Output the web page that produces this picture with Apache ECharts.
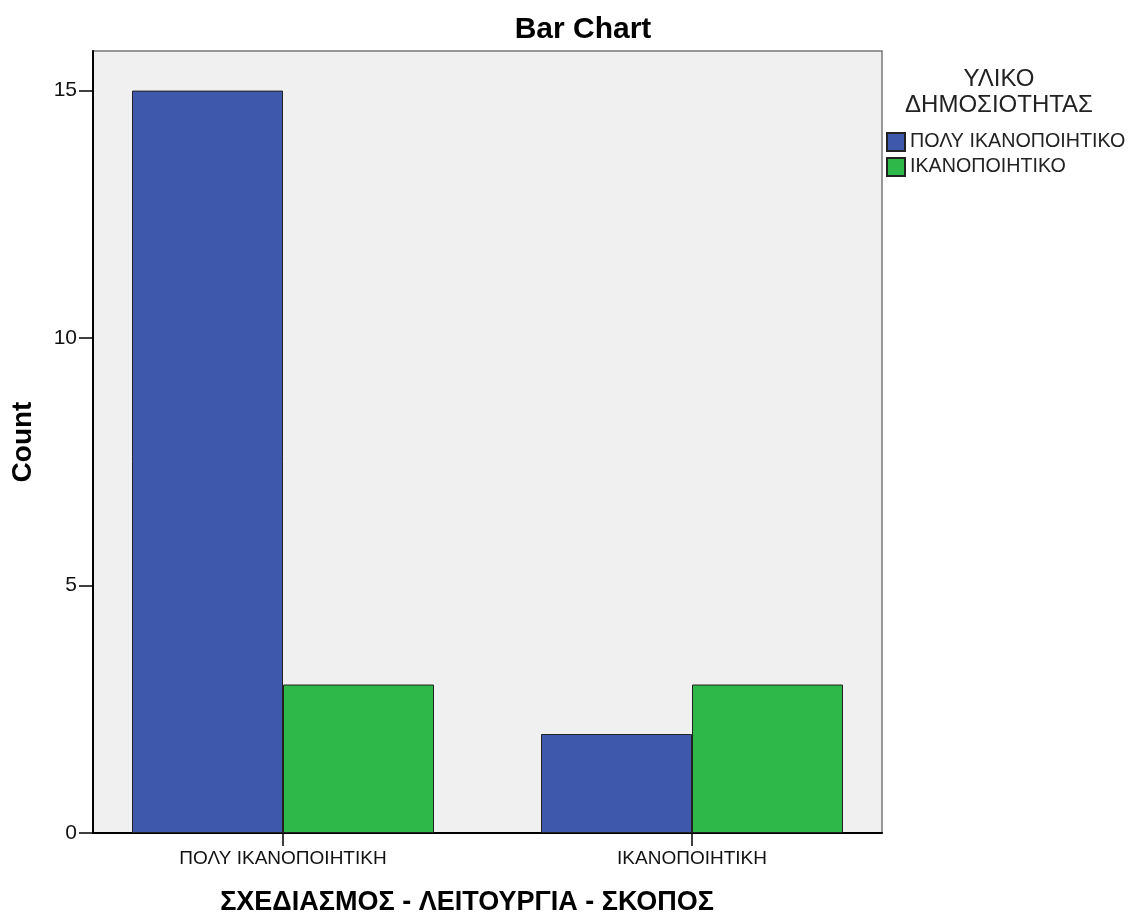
<!DOCTYPE html>
<html>
<head>
<meta charset="utf-8">
<title>Bar Chart</title>
<script src="https://cdn.jsdelivr.net/npm/echarts@6/dist/echarts.min.js"></script>
<style>
  html, body { margin: 0; padding: 0; background: #fff; }
  #chart { width: 1129px; height: 915px; }
</style>
</head>
<body>
<div id="chart"></div>
<script>
// data
const categories = ['ΠΟΛΥ ΙΚΑΝΟΠΟΙΗΤΙΚΗ', 'ΙΚΑΝΟΠΟΙΗΤΙΚΗ']
const seriesNames = ['ΠΟΛΥ ΙΚΑΝΟΠΟΙΗΤΙΚΟ', 'ΙΚΑΝΟΠΟΙΗΤΙΚΟ']
const veryGoodCounts = [15, 2]
const goodCounts = [3, 3]
const yTicks = [0, 5, 10, 15]
const yMax = 15.8

const font = "'Liberation Sans', Arial, sans-serif"
const blue = '#3e58ac'
const green = '#2eb84a'

const chart = echarts.init(document.getElementById('chart'))

const option = {
  backgroundColor: '#fff',
  animation: false,
  textStyle: { fontFamily: font },
  title: [
    {
      text: 'Bar Chart',
      left: 578,
      top: 10,
      textAlign: 'center',
      textStyle: { fontFamily: font, fontSize: 30, fontWeight: 'bold', color: '#000' }
    },
    {
      text: 'ΣΧΕΔΙΑΣΜΟΣ - ΛΕΙΤΟΥΡΓΙΑ - ΣΚΟΠΟΣ',
      left: 462,
      top: 884,
      textAlign: 'center',
      textStyle: { fontFamily: font, fontSize: 27, fontWeight: 'bold', color: '#000' }
    },
    {
      text: 'ΥΛΙΚΟ\nΔΗΜΟΣΙΟΤΗΤΑΣ',
      left: 994,
      top: 61,
      textAlign: 'center',
      textStyle: { fontFamily: font, fontSize: 24, fontWeight: 'normal', color: '#222', lineHeight: 26 }
    }
  ],
  legend: {
    data: seriesNames,
    orient: 'vertical',
    left: 886,
    top: 132,
    icon: 'rect',
    itemWidth: 18,
    itemHeight: 18,
    itemGap: 5,
    padding: 0,
    textStyle: { fontFamily: font, fontSize: 19.7, color: '#222' }
  },
  grid: [
    // plot frame / background
    { left: 93, top: 51, width: 789, height: 782, show: true, backgroundColor: '#f0f0f0', borderColor: '#777', borderWidth: 1.5 },
    // bars: categories spaced a bit wider than the frame
    { left: 78.5, top: 51, width: 818, height: 782 }
  ],
  xAxis: [
    {
      type: 'category',
      gridIndex: 0,
      data: categories,
      axisLine: { lineStyle: { color: '#000', width: 2 } },
      axisTick: { show: false },
      axisLabel: { show: false }
    },
    {
      type: 'category',
      gridIndex: 1,
      data: categories,
      axisLine: { show: false },
      axisTick: { show: true, alignWithLabel: true, length: 13, lineStyle: { color: '#000', width: 1.5 } },
      axisLabel: { margin: 16, fontFamily: font, fontSize: 19, color: '#111' }
    }
  ],
  yAxis: [
    {
      type: 'value',
      gridIndex: 0,
      min: 0,
      max: yMax,
      interval: 5,
      name: 'Count',
      nameLocation: 'middle',
      nameGap: 56,
      nameTextStyle: { fontFamily: font, fontSize: 28, fontWeight: 'bold', color: '#000' },
      axisLine: { show: true, lineStyle: { color: '#000', width: 2 } },
      axisTick: { show: true, length: 14, customValues: yTicks, lineStyle: { color: '#000', width: 1.5 } },
      axisLabel: { margin: 16, customValues: yTicks, fontFamily: font, fontSize: 21, color: '#111' },
      splitLine: { show: false }
    },
    {
      type: 'value',
      gridIndex: 1,
      min: 0,
      max: yMax,
      show: false,
      splitLine: { show: false }
    }
  ],
  series: [
    {
      name: seriesNames[0],
      type: 'bar',
      xAxisIndex: 1,
      yAxisIndex: 1,
      data: veryGoodCounts,
      barWidth: 151,
      barGap: '0%',
      itemStyle: { color: blue, borderColor: '#222', borderWidth: 1 }
    },
    {
      name: seriesNames[1],
      type: 'bar',
      xAxisIndex: 1,
      yAxisIndex: 1,
      data: goodCounts,
      barWidth: 151,
      barGap: '0%',
      itemStyle: { color: green, borderColor: '#222', borderWidth: 1 }
    }
  ]
}

chart.setOption(option)

window.addEventListener('resize', () => {
  chart.resize()
})
</script>
</body>
</html>
